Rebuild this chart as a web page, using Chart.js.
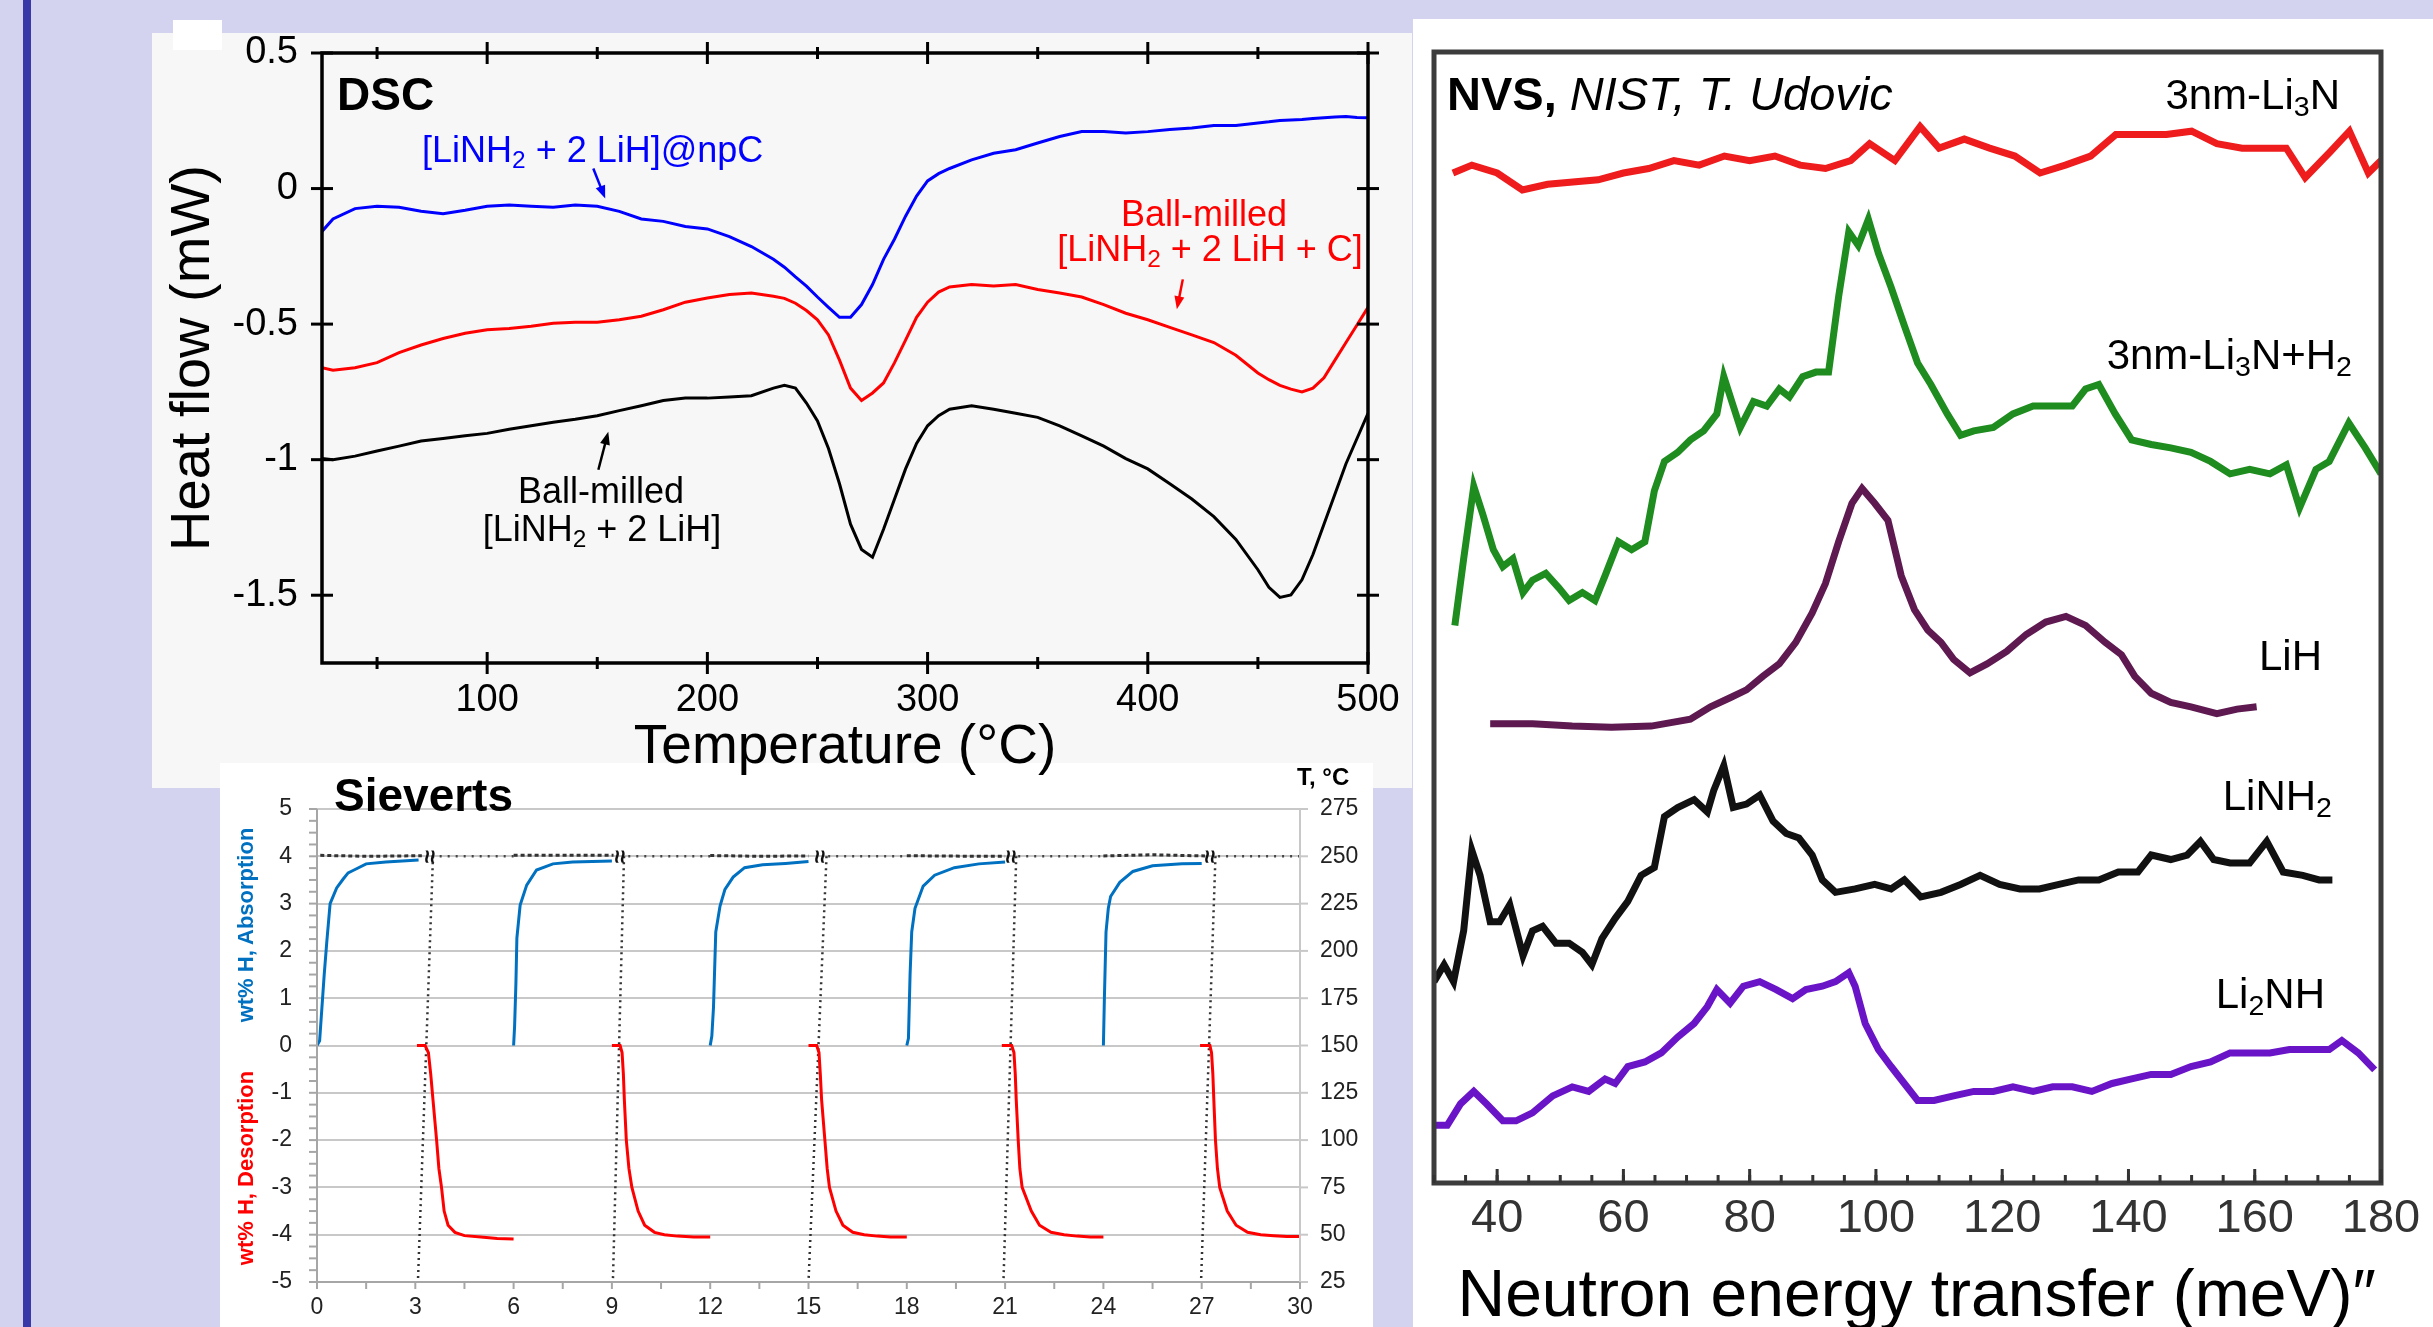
<!DOCTYPE html>
<html lang="en">
<head>
  <meta charset="UTF-8">
  <title>DSC, Sieverts and NVS</title>
  <script src="https://cdn.jsdelivr.net/npm/chart.js"></script>
  <style>
    body {
      margin: 0;
      width: 2433px;
      height: 1327px;
      position: relative;
      overflow: hidden;
      background: #d3d3ef;
      font-family: 'Liberation Sans', Arial, sans-serif;
    }
    .box { position: absolute; }
    canvas { position: absolute; }
    .lbl { position: absolute; line-height: 1; white-space: nowrap; }
    .c { transform: translateX(-50%); }
    .r { transform: translateX(-100%); }
    .rot { transform: translate(-50%, -50%) rotate(-90deg); font-weight: bold; font-size: 22px; }
    sub { font-size: 0.68em; vertical-align: -0.25em; line-height: 0; }
  </style>
</head>
<body>
  <div class="box" style="left:23px;top:0;width:8px;height:1327px;background:#3838a8"></div>
  <div class="box" style="left:152px;top:33px;width:1260px;height:755px;background:#f7f7f7"></div>
  <div class="box" style="left:173px;top:20px;width:49px;height:30px;background:#fff"></div>
  <div class="box" style="left:220px;top:763px;width:1153px;height:564px;background:#fff"></div>
  <div class="box" style="left:1413px;top:19px;width:1020px;height:1308px;background:#fff"></div>

  <canvas id="sieverts" width="1153" height="564" style="left:220px;top:763px"></canvas>
  <canvas id="dsc" width="1260" height="755" style="left:152px;top:33px"></canvas>
  <canvas id="nvs" width="1020" height="1308" style="left:1413px;top:19px"></canvas>

  <!-- DSC labels -->
  <div class="lbl" style="left:337px;top:71px;font-size:46px;font-weight:bold">DSC</div>
  <div class="lbl" style="left:422px;top:132px;font-size:36px;color:#0000ff">[LiNH<sub>2</sub> + 2 LiH]@npC</div>
  <div class="lbl c" style="left:1204px;top:196px;font-size:36px;color:#ff0000">Ball-milled</div>
  <div class="lbl c" style="left:1210px;top:231px;font-size:36px;color:#ff0000">[LiNH<sub>2</sub> + 2 LiH + C]</div>
  <div class="lbl c" style="left:601px;top:473px;font-size:36px">Ball-milled</div>
  <div class="lbl c" style="left:602px;top:511px;font-size:36px">[LiNH<sub>2</sub> + 2 LiH]</div>

  <!-- Sieverts labels -->
  <div class="lbl" style="left:334px;top:772px;font-size:46px;font-weight:bold">Sieverts</div>
  <div class="lbl" style="left:1297px;top:765px;font-size:24px;font-weight:bold">T, °C</div>
  <div class="lbl rot" style="left:246px;top:925px;color:#0070c0">wt% H, Absorption</div>
  <div class="lbl rot" style="left:246px;top:1168px;color:#ff0000">wt% H, Desorption</div>

  <!-- NVS labels -->
  <div class="lbl" style="left:1447px;top:70px;font-size:47px"><b>NVS,</b> <i>NIST, T. Udovic</i></div>
  <div class="lbl r" style="left:2340px;top:74px;font-size:42px">3nm-Li<sub>3</sub>N</div>
  <div class="lbl r" style="left:2352px;top:334px;font-size:42px">3nm-Li<sub>3</sub>N+H<sub>2</sub></div>
  <div class="lbl r" style="left:2322px;top:635px;font-size:42px">LiH</div>
  <div class="lbl r" style="left:2332px;top:775px;font-size:42px">LiNH<sub>2</sub></div>
  <div class="lbl r" style="left:2325px;top:973px;font-size:42px">Li<sub>2</sub>NH</div>

  <script>
    // ---- DSC: heat flow (mW) against temperature (°C)
    const dscTemp = [25, 30, 40, 50, 60, 70, 80, 90, 100, 110, 120, 130, 140, 150, 160, 170, 180, 190, 200, 210,
      220, 230, 235, 240, 245, 250, 255, 260, 265, 270, 275, 280, 285, 290, 295, 300, 305, 310, 320, 330,
      340, 350, 360, 370, 380, 390, 400, 410, 420, 430, 440, 450, 455, 460, 465, 470, 475, 480, 485, 490, 495, 500];
    const dscNpC = [-0.158, -0.112, -0.074, -0.065, -0.069, -0.084, -0.093, -0.080, -0.065, -0.061, -0.065, -0.069,
      -0.061, -0.065, -0.084, -0.112, -0.121, -0.140, -0.149, -0.177, -0.214, -0.261, -0.290, -0.326, -0.360,
      -0.400, -0.438, -0.475, -0.475, -0.428, -0.354, -0.261, -0.186, -0.102, -0.028, 0.028, 0.055, 0.074, 0.106,
      0.130, 0.143, 0.168, 0.192, 0.210, 0.210, 0.205, 0.210, 0.218, 0.223, 0.233, 0.233, 0.242, 0.246, 0.251,
      0.253, 0.255, 0.258, 0.261, 0.264, 0.266, 0.262, 0.261];
    const dscBallC = [-0.661, -0.670, -0.661, -0.642, -0.605, -0.577, -0.553, -0.534, -0.521, -0.516, -0.508, -0.497,
      -0.493, -0.493, -0.484, -0.471, -0.447, -0.419, -0.404, -0.391, -0.385, -0.397, -0.405, -0.423, -0.450,
      -0.484, -0.540, -0.633, -0.736, -0.782, -0.754, -0.717, -0.642, -0.559, -0.475, -0.419, -0.382, -0.363,
      -0.354, -0.359, -0.354, -0.372, -0.385, -0.400, -0.428, -0.460, -0.484, -0.512, -0.540, -0.568, -0.615,
      -0.680, -0.705, -0.726, -0.740, -0.750, -0.736, -0.698, -0.633, -0.568, -0.503, -0.438];
    const dscBall = [-0.996, -1.000, -0.987, -0.968, -0.950, -0.931, -0.922, -0.912, -0.903, -0.888, -0.875, -0.862,
      -0.851, -0.838, -0.819, -0.801, -0.782, -0.773, -0.773, -0.769, -0.764, -0.736, -0.726, -0.736, -0.791,
      -0.857, -0.959, -1.089, -1.238, -1.331, -1.360, -1.257, -1.145, -1.034, -0.940, -0.875, -0.838, -0.814,
      -0.801, -0.814, -0.829, -0.844, -0.875, -0.912, -0.950, -0.996, -1.034, -1.089, -1.145, -1.210, -1.294,
      -1.406, -1.471, -1.508, -1.499, -1.443, -1.350, -1.238, -1.127, -1.015, -0.922, -0.829];
    const dscXTicks = [100, 200, 300, 400, 500];
    const dscXMinor = [50, 150, 250, 350, 450];
    const dscYTicks = [0.5, 0, -0.5, -1, -1.5];

    // ---- Sieverts: wt% H against time (h), temperature on the right axis
    const absTime = [
      [0.0, 0.08, 0.15, 0.22, 0.3, 0.4, 0.6, 0.8, 0.95, 1.1, 1.5, 2.1, 3.1],
      [6.0, 6.03, 6.07, 6.1, 6.2, 6.4, 6.7, 7.2, 7.8, 9.0],
      [12.0, 12.05, 12.1, 12.17, 12.3, 12.45, 12.7, 13.05, 13.6, 14.3, 15.0],
      [18.0, 18.05, 18.1, 18.15, 18.25, 18.5, 18.85, 19.45, 20.2, 21.0],
      [24.0, 24.03, 24.08, 24.15, 24.22, 24.5, 24.9, 25.5, 26.4, 27.0]
    ];
    const absWt = [
      [0, 0.1, 0.8, 1.5, 2.2, 3.0, 3.33, 3.52, 3.65, 3.7, 3.84, 3.88, 3.92],
      [0, 0.4, 1.3, 2.27, 2.97, 3.39, 3.71, 3.84, 3.88, 3.9],
      [0, 0.2, 0.8, 2.4, 2.95, 3.3, 3.56, 3.76, 3.82, 3.85, 3.89],
      [0, 0.15, 1.5, 2.4, 2.9, 3.37, 3.6, 3.76, 3.84, 3.88],
      [0, 1.0, 2.4, 2.9, 3.15, 3.45, 3.68, 3.8, 3.84, 3.85]
    ];
    const desTime = [
      [3.05, 3.3, 3.4, 3.47, 3.54, 3.65, 3.72, 3.8, 3.88, 4.0, 4.21, 4.5, 5.0, 5.5, 6.0],
      [9.0, 9.25, 9.31, 9.35, 9.38, 9.44, 9.52, 9.61, 9.8, 10.0, 10.3, 10.6, 11.0, 11.5, 12.0],
      [15.0, 15.25, 15.32, 15.36, 15.4, 15.5, 15.57, 15.64, 15.84, 16.05, 16.35, 16.7, 17.1, 17.5, 18.0],
      [20.9, 21.2, 21.27, 21.31, 21.34, 21.4, 21.45, 21.52, 21.8, 22.05, 22.4, 22.8, 23.2, 23.6, 24.0],
      [26.95, 27.25, 27.3, 27.34, 27.37, 27.42, 27.48, 27.55, 27.78, 28.05, 28.4, 28.8, 29.2, 29.6, 30.0]
    ];
    const desWt = [
      [0, 0, -0.15, -0.6, -1.15, -2.0, -2.6, -3.0, -3.5, -3.8, -3.95, -4.02, -4.05, -4.08, -4.09],
      [0, 0, -0.15, -0.6, -1.15, -2.0, -2.6, -3.0, -3.5, -3.8, -3.95, -4.0, -4.03, -4.05, -4.05],
      [0, 0, -0.15, -0.6, -1.15, -2.0, -2.6, -3.0, -3.5, -3.8, -3.95, -4.0, -4.03, -4.05, -4.05],
      [0, 0, -0.15, -0.6, -1.15, -2.0, -2.6, -3.0, -3.5, -3.8, -3.95, -4.0, -4.03, -4.05, -4.05],
      [0, 0, -0.15, -0.6, -1.15, -2.0, -2.6, -3.0, -3.5, -3.8, -3.95, -4.0, -4.02, -4.04, -4.04]
    ];
    const holdTime = [0.1, 1.5, 3.2, 3.2, 6.0, 7.5, 9.05, 9.05, 12.0, 13.5, 15.0, 15.0, 18.0, 19.5, 21.0, 21.0, 24.0, 25.5, 27.1];
    const holdTemp = [250.5, 250, 250.3, null, 250.6, 250.6, 250.5, null, 250.4, 250, 250.2, null, 250.3, 250.1, 250, null, 250.2, 250.8, 250.2];
    const restTime = [3.5, 4.8, 6.0, 6.0, 9.5, 10.8, 12.0, 12.0, 15.6, 16.8, 18.0, 18.0, 21.4, 22.7, 24.0, 24.0, 27.5, 28.8, 30.0];
    const restTemp = [250, 250, 250, null, 250, 250, 250, null, 250, 250, 250, null, 250, 250, 250, null, 250, 250, 250];
    const dropTime = [3.54, 3.08, 3.08, 9.37, 9.03, 9.03, 15.55, 15.0, 15.0, 21.34, 20.95, 20.95, 27.42, 26.98];
    const dropTemp = [250, 25, null, 250, 25, null, 250, 25, null, 250, 25, null, 250, 25];
    const breakTime = [3.41, 9.2, 15.3, 21.14, 27.2];
    const sievXTicks = [0, 3, 6, 9, 12, 15, 18, 21, 24, 27, 30];

    // ---- NVS: intensity (offset, arb. units) against neutron energy transfer (meV)
    const li3nE = [33, 36, 40, 44, 48, 52, 56, 60, 64, 68, 72, 76, 80, 84, 88, 92, 96, 99, 103, 107,
      110, 114, 118, 122, 126, 130, 134, 138, 142, 146, 150, 154, 158, 162, 165, 168, 172, 175, 178, 180];
    const li3nI = [89.3, 90.0, 89.3, 87.8, 88.3, 88.5, 88.7, 89.3, 89.7, 90.4, 90.0, 90.8, 90.4, 90.8, 90.0, 89.7,
      90.4, 91.9, 90.4, 93.4, 91.5, 92.3, 91.5, 90.8, 89.3, 90.0, 90.8, 92.7, 92.7, 92.7, 93.0, 91.9, 91.5, 91.5,
      91.5, 88.9, 91.2, 93.0, 89.3, 90.4];
    const li3nH2E = [33.3, 34.7, 36.3, 37.8, 39.4, 40.9, 42.5, 44.1, 45.6, 47.7, 49.8, 51.4, 53.5, 55.5, 57.1,
      59.2, 61.3, 63.4, 64.9, 66.5, 68.6, 70.6, 72.7, 74.8, 75.9, 77.4, 78.5, 80.6, 82.7, 84.7, 86.3, 88.4, 90.5,
      92.5, 94.1, 95.7, 97.2, 98.8, 100.4, 102.4, 104.5, 106.6, 108.7, 111.3, 113.4, 115.5, 118.6, 121.7, 124.9,
      128.0, 131.1, 133.2, 135.3, 137.9, 140.5, 143.6, 146.7, 149.9, 153.0, 156.1, 159.2, 162.4, 165.0, 167.1,
      169.7, 171.8, 174.9, 177.5, 180];
    const li3nH2I = [49.3, 55.2, 61.6, 59.0, 56.0, 54.5, 55.2, 52.2, 53.3, 53.9, 52.6, 51.5, 52.2, 51.5, 53.7,
      56.7, 56.0, 56.7, 61.2, 63.8, 64.6, 65.7, 66.5, 68.0, 71.3, 68.7, 66.8, 69.1, 68.7, 70.2, 69.5, 71.3, 71.7,
      71.7, 78.4, 84.1, 82.9, 85.2, 82.2, 79.2, 75.8, 72.5, 70.6, 68.0, 66.1, 66.5, 66.8, 68.0, 68.7, 68.7, 68.7,
      70.2, 70.6, 68.0, 65.7, 65.3, 65.0, 64.6, 63.8, 62.7, 63.1, 62.7, 63.5, 59.7, 63.1, 63.8, 67.2, 65.0, 62.7];
    const lihE = [38.9, 45.6, 51.9, 58.1, 64.4, 70.6, 73.8, 76.9, 79.5, 82.1, 84.7, 87.3, 89.9, 92.0, 94.1, 96.2,
      97.8, 99.8, 101.9, 104.0, 106.1, 108.2, 110.3, 112.3, 114.9, 117.6, 120.7, 123.8, 126.9, 130.1, 133.2,
      136.3, 138.9, 141.0, 143.6, 146.7, 149.9, 154.0, 157.2, 160.3];
    const lihI = [40.6, 40.6, 40.4, 40.3, 40.4, 41.0, 42.1, 42.9, 43.6, 44.8, 45.9, 47.8, 50.4, 53.0, 56.7, 60.1,
      61.4, 60.1, 58.6, 53.7, 50.7, 48.9, 47.8, 46.3, 45.1, 45.9, 47.0, 48.5, 49.6, 50.1, 49.3, 47.8, 46.7, 44.8,
      43.3, 42.5, 42.1, 41.5, 41.9, 42.1];
    const linh2E = [30.0, 31.6, 33.1, 34.7, 36.0, 37.3, 38.9, 40.4, 42.0, 44.1, 45.6, 47.2, 49.3, 51.4, 53.5,
      55.0, 56.6, 58.7, 60.7, 62.8, 64.9, 66.5, 68.6, 71.2, 73.3, 74.3, 75.9, 77.4, 79.5, 81.6, 83.7, 85.8, 87.8,
      89.9, 91.5, 93.6, 96.7, 99.8, 102.4, 104.5, 107.1, 110.3, 113.4, 116.5, 119.6, 122.8, 125.9, 129.0, 132.1,
      135.3, 138.4, 141.5, 143.6, 146.7, 149.3, 151.4, 153.5, 156.1, 159.2, 161.9, 164.5, 167.6, 170.2, 172.3];
    const linh2I = [17.8, 19.3, 17.8, 22.3, 29.4, 27.2, 23.1, 23.1, 24.6, 20.1, 22.3, 22.7, 21.2, 21.2, 20.4,
      19.3, 21.6, 23.4, 24.9, 27.2, 27.9, 32.4, 33.2, 33.9, 32.8, 34.7, 36.9, 33.2, 33.5, 34.3, 32.0, 30.9, 30.5,
      29.0, 26.8, 25.7, 26.0, 26.4, 26.0, 26.8, 25.3, 25.7, 26.4, 27.2, 26.4, 26.0, 26.0, 26.4, 26.8, 26.8, 27.5,
      27.5, 29.0, 28.6, 29.0, 30.2, 28.6, 28.3, 28.3, 30.2, 27.5, 27.2, 26.8, 26.8];
    const li2nhE = [30, 32.1, 34.2, 36.3, 38.3, 40.9, 43.0, 45.6, 48.8, 51.9, 54.5, 57.1, 58.7, 60.7, 63.4, 66.0,
      68.6, 71.2, 73.3, 74.8, 76.9, 79.0, 81.6, 84.2, 86.8, 88.9, 91.5, 93.6, 95.7, 96.7, 98.3, 100.4, 102.4,
      104.5, 106.6, 109.2, 112.3, 115.5, 118.6, 121.7, 124.9, 128.0, 131.1, 134.2, 137.4, 140.5, 143.6, 146.7,
      149.9, 153.0, 156.1, 159.2, 162.4, 165.5, 168.6, 171.8, 173.8, 176.4, 179.0];
    const li2nhI = [5.1, 5.1, 7.0, 8.1, 7.0, 5.5, 5.5, 6.2, 7.7, 8.5, 8.1, 9.2, 8.8, 10.3, 10.7, 11.5, 12.9, 14.1,
      15.6, 17.1, 15.9, 17.4, 17.8, 17.1, 16.3, 17.1, 17.4, 17.8, 18.6, 17.4, 14.1, 11.8, 10.3, 8.8, 7.3, 7.3,
      7.7, 8.1, 8.1, 8.5, 8.1, 8.5, 8.5, 8.1, 8.8, 9.2, 9.6, 9.6, 10.3, 10.7, 11.5, 11.5, 11.5, 11.8, 11.8, 11.8,
      12.6, 11.5, 10.0];
    const nvsXTicks = [40, 60, 80, 100, 120, 140, 160, 180];

    const FONT = "'Liberation Sans', Arial, sans-serif";
    Chart.defaults.font.family = FONT;
    Chart.defaults.color = '#000';
    Chart.defaults.animation = false;
    Chart.defaults.responsive = false;
    Chart.defaults.devicePixelRatio = 1;
    Chart.defaults.plugins.legend.display = false;
    Chart.defaults.plugins.tooltip.enabled = false;

    const pts = (xs, ys) => xs.map((x, i) => ({x: x, y: ys[i]}));
    const line = (data, color, width, extra) => Object.assign({
      data: data, borderColor: color, borderWidth: width, pointRadius: 0, fill: false, tension: 0
    }, extra || {});
    // pin the axis box size and drop the label overhang padding
    const fixH = h => s => { s.height = h; s.paddingLeft = 0; s.paddingRight = 0; };
    const fixW = w => s => { s.width = w; s.paddingTop = 0; s.paddingBottom = 0; };

    // frame, tick marks, arrows and small marks drawn from the chart scales
    const decor = {
      id: 'decor',
      afterDatasetsDraw(chart, args, o) {
        const ctx = chart.ctx, a = chart.chartArea;
        ctx.save();
        (o.lines || []).forEach(l => {
          ctx.strokeStyle = l.color;
          ctx.lineWidth = l.width;
          ctx.beginPath();
          if (l.edge === 'box') ctx.rect(a.left, a.top, a.width, a.height);
          if (l.edge === 'left') { ctx.moveTo(a.left, a.top); ctx.lineTo(a.left, a.bottom); }
          if (l.edge === 'right') { ctx.moveTo(a.right, a.top); ctx.lineTo(a.right, a.bottom); }
          if (l.edge === 'bottom') { ctx.moveTo(a.left, a.bottom); ctx.lineTo(a.right, a.bottom); }
          ctx.stroke();
        });
        (o.ticks || []).forEach(t => {
          const s = chart.scales[t.scale];
          let vals = [];
          if (Array.isArray(t.at)) {
            vals = t.at.slice();
          } else {
            for (let v = s.min; v <= s.max + 1e-9; v += t.step) vals.push(v);
          }
          ctx.strokeStyle = t.color;
          ctx.lineWidth = t.width;
          vals.forEach(v => {
            const p = s.getPixelForValue(v);
            t.edges.forEach(e => {
              ctx.beginPath();
              if (e === 'bottom') { ctx.moveTo(p, a.bottom + t.out); ctx.lineTo(p, a.bottom - t.in); }
              if (e === 'top') { ctx.moveTo(p, a.top - t.out); ctx.lineTo(p, a.top + t.in); }
              if (e === 'left') { ctx.moveTo(a.left - t.out, p); ctx.lineTo(a.left + t.in, p); }
              if (e === 'right') { ctx.moveTo(a.right + t.out, p); ctx.lineTo(a.right - t.in, p); }
              ctx.stroke();
            });
          });
        });
        (o.arrows || []).forEach(ar => {
          const xs = chart.scales.x, ys = chart.scales.y;
          const x1 = xs.getPixelForValue(ar.from[0]), y1 = ys.getPixelForValue(ar.from[1]);
          const x2 = xs.getPixelForValue(ar.to[0]), y2 = ys.getPixelForValue(ar.to[1]);
          const ang = Math.atan2(y2 - y1, x2 - x1), h = 13, w = 5;
          const cx = Math.cos(ang), sy = Math.sin(ang);
          ctx.strokeStyle = ar.color;
          ctx.fillStyle = ar.color;
          ctx.lineWidth = 2.5;
          ctx.beginPath();
          ctx.moveTo(x1, y1);
          ctx.lineTo(x2 - h * 0.7 * cx, y2 - h * 0.7 * sy);
          ctx.stroke();
          ctx.beginPath();
          ctx.moveTo(x2, y2);
          ctx.lineTo(x2 - h * cx + w * sy, y2 - h * sy - w * cx);
          ctx.lineTo(x2 - h * cx - w * sy, y2 - h * sy + w * cx);
          ctx.closePath();
          ctx.fill();
        });
        (o.marks || []).forEach(m => {
          const xs = chart.scales.x, ys = chart.scales[m.yScale];
          ctx.fillStyle = m.color;
          ctx.font = m.font;
          ctx.textAlign = 'center';
          ctx.textBaseline = 'middle';
          m.at.slice().forEach(v => {
            ctx.save();
            ctx.translate(xs.getPixelForValue(v), ys.getPixelForValue(m.y));
            ctx.rotate(m.rotate);
            ctx.fillText(m.text, 0, 0);
            ctx.restore();
          });
        });
        ctx.restore();
      }
    };
    Chart.register(decor);

    const noGrid = {display: false, drawTicks: false};
    const noBorder = {display: false};

    // ---- DSC chart
    new Chart(document.getElementById('dsc'), {
      type: 'line',
      data: {
        datasets: [
          line(pts(dscTemp, dscNpC), '#0000ff', 3),
          line(pts(dscTemp, dscBallC), '#ff0000', 3),
          line(pts(dscTemp, dscBall), '#000000', 3)
        ]
      },
      options: {
        layout: {padding: {left: 0, top: 20, right: 44, bottom: 0}},
        scales: {
          x: {
            type: 'linear', min: 25, max: 500,
            afterBuildTicks: s => { s.ticks = dscXTicks.map(v => ({value: v})); },
            afterFit: fixH(125),
            grid: noGrid, border: noBorder,
            ticks: {font: {size: 38}, padding: 15, maxRotation: 0, autoSkip: false, callback: v => String(v)},
            title: {display: true, text: 'Temperature (°C)', font: {size: 55}, padding: {top: 0, bottom: 7}}
          },
          y: {
            type: 'linear', min: -1.75, max: 0.5,
            afterBuildTicks: s => { s.ticks = dscYTicks.map(v => ({value: v})); },
            afterFit: fixW(170),
            grid: noGrid, border: noBorder,
            ticks: {font: {size: 38}, padding: 24, callback: v => String(v)},
            title: {display: true, text: 'Heat flow (mW)', font: {size: 56}, padding: {top: 8, bottom: 0}}
          }
        },
        plugins: {
          decor: {
            lines: [{edge: 'box', color: '#000', width: 3.5}],
            ticks: [
              {scale: 'x', at: dscXTicks, edges: ['bottom', 'top'], in: 11, out: 11, color: '#000', width: 3},
              {scale: 'x', at: dscXMinor, edges: ['bottom', 'top'], in: 6, out: 6, color: '#000', width: 3},
              {scale: 'y', at: dscYTicks, edges: ['left', 'right'], in: 11, out: 11, color: '#000', width: 3}
            ],
            arrows: [
              {from: [148.2, 0.074], to: [153.6, -0.037], color: '#0000ff'},
              {from: [415.9, -0.335], to: [413.2, -0.445], color: '#ff0000'},
              {from: [150.5, -1.037], to: [155, -0.897], color: '#000000'}
            ]
          }
        }
      }
    });

    // ---- Sieverts chart
    const sievSets = [];
    absTime.forEach((t, i) => sievSets.push(line(pts(t, absWt[i]), '#0070c0', 3, {yAxisID: 'y'})));
    desTime.forEach((t, i) => sievSets.push(line(pts(t, desWt[i]), '#ff0000', 3, {yAxisID: 'y'})));
    sievSets.push(line(pts(holdTime, holdTemp), '#333', 3, {yAxisID: 'y2', borderDash: [4, 3]}));
    sievSets.push(line(pts(restTime, restTemp), '#444', 2.5, {yAxisID: 'y2', borderDash: [2, 6]}));
    sievSets.push(line(pts(dropTime, dropTemp), '#333', 2.5, {yAxisID: 'y2', borderDash: [2, 4]}));

    new Chart(document.getElementById('sieverts'), {
      type: 'line',
      data: {datasets: sievSets},
      options: {
        layout: {padding: {left: 0, top: 46, right: 0, bottom: 0}},
        scales: {
          x: {
            type: 'linear', min: 0, max: 30,
            afterBuildTicks: s => { s.ticks = sievXTicks.map(v => ({value: v})); },
            afterFit: fixH(45),
            grid: noGrid, border: noBorder,
            ticks: {font: {size: 23}, color: '#222', padding: 12, maxRotation: 0, autoSkip: false}
          },
          y: {
            type: 'linear', position: 'left', min: -5, max: 5,
            afterFit: fixW(97),
            grid: {color: '#c8c8c8', lineWidth: 2, drawTicks: false}, border: noBorder,
            ticks: {stepSize: 1, font: {size: 23}, color: '#222', padding: 25}
          },
          y2: {
            type: 'linear', position: 'right', min: 25, max: 275,
            afterFit: fixW(73),
            grid: noGrid, border: noBorder,
            ticks: {stepSize: 25, font: {size: 23}, color: '#222', padding: 20}
          }
        },
        plugins: {
          decor: {
            lines: [
              {edge: 'left', color: '#a6a6a6', width: 2},
              {edge: 'bottom', color: '#a6a6a6', width: 2},
              {edge: 'right', color: '#c8c8c8', width: 2}
            ],
            ticks: [
              {scale: 'y', step: 0.25, edges: ['left'], in: 0, out: 8, color: '#a6a6a6', width: 2},
              {scale: 'y2', step: 25, edges: ['right'], in: 0, out: 8, color: '#c8c8c8', width: 2},
              {scale: 'x', step: 1.5, edges: ['bottom'], in: 0, out: 7, color: '#a6a6a6', width: 2}
            ],
            marks: [
              {at: breakTime, y: 250, yScale: 'y2', text: '≈', rotate: Math.PI / 2, font: 'bold 24px ' + FONT, color: '#111'}
            ]
          }
        }
      }
    });

    // ---- NVS chart
    new Chart(document.getElementById('nvs'), {
      type: 'line',
      data: {
        datasets: [
          line(pts(li3nE, li3nI), '#ee1c1c', 7),
          line(pts(li3nH2E, li3nH2I), '#1e8c1e', 7),
          line(pts(lihE, lihI), '#5e1950', 7),
          line(pts(linh2E, linh2I), '#111111', 7),
          line(pts(li2nhE, li2nhI), '#6a14c8', 7)
        ]
      },
      options: {
        layout: {padding: {left: 21, top: 33, right: 52, bottom: 0}},
        scales: {
          x: {
            type: 'linear', min: 30, max: 180,
            afterBuildTicks: s => { s.ticks = nvsXTicks.map(v => ({value: v})); },
            afterFit: fixH(144),
            grid: noGrid, border: noBorder,
            ticks: {font: {size: 47}, color: '#333', padding: 8, maxRotation: 0, autoSkip: false, callback: v => String(v)},
            title: {display: true, text: ' Neutron energy transfer (meV)″', font: {size: 66, lineHeight: 0.9}, padding: {top: 0, bottom: 0}}
          },
          y: {type: 'linear', display: false, min: 0, max: 100}
        },
        plugins: {
          decor: {
            lines: [{edge: 'box', color: '#3c3c3c', width: 5}],
            ticks: [
              {scale: 'x', at: nvsXTicks, edges: ['bottom'], in: 14, out: 0, color: '#333', width: 3},
              {scale: 'x', step: 5, edges: ['bottom'], in: 8, out: 0, color: '#333', width: 3}
            ]
          }
        }
      }
    });
  </script>
</body>
</html>
